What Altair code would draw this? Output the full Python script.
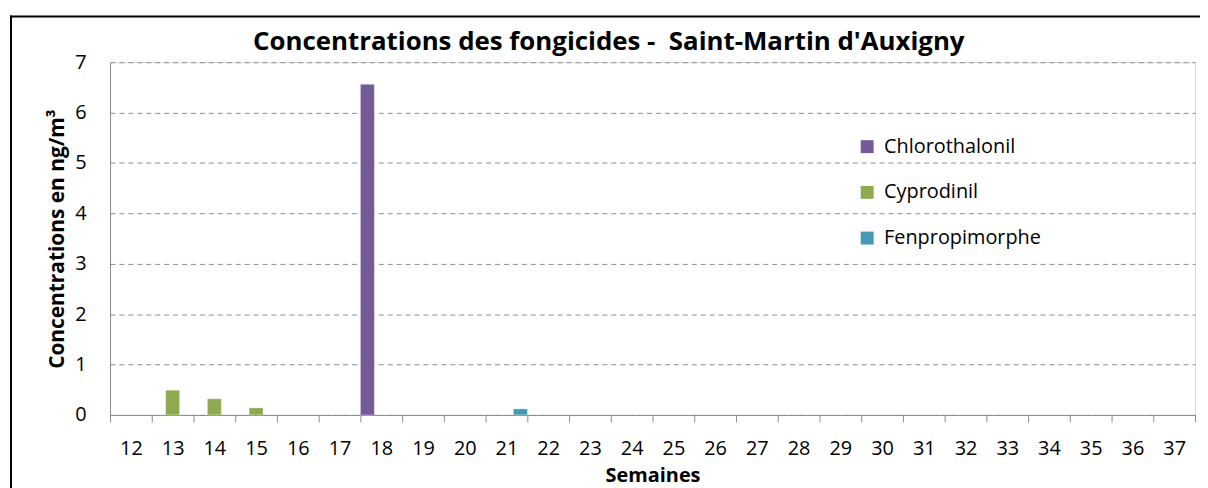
import altair as alt
import pandas as pd

weeks = list(range(12, 38))
series = ["Chlorothalonil", "Cyprodinil", "Fenpropimorphe"]
colors = ["#745a96", "#8daa4f", "#4499b4"]

chlorothalonil = [0, 0, 0, 0, 0, 0, 6.56, 0, 0, 0, 0, 0, 0, 0, 0, 0, 0, 0, 0, 0, 0, 0, 0, 0, 0, 0]
cyprodinil = [0, 0.49, 0.32, 0.14, 0, 0, 0, 0, 0, 0, 0, 0, 0, 0, 0, 0, 0, 0, 0, 0, 0, 0, 0, 0, 0, 0]
fenpropimorphe = [0, 0, 0, 0, 0, 0, 0, 0, 0, 0.12, 0, 0, 0, 0, 0, 0, 0, 0, 0, 0, 0, 0, 0, 0, 0, 0]

title_text = "Concentrations des fongicides -\u00a0 Saint-Martin d'Auxigny"
y_title = "Concentrations en ng/m³"
x_title = "Semaines"

rows = []
for name, vals in zip(series, [chlorothalonil, cyprodinil, fenpropimorphe]):
    for w, v in zip(weeks, vals):
        if v > 0:
            rows.append({"Semaine": w, "Fongicide": name, "Concentration": v})
df = pd.DataFrame(rows)

FONT = "Open Sans"
GRAY = "#8c8c8c"

bars = alt.Chart(df).mark_bar(stroke="#ffffff", strokeOpacity=0.3, strokeWidth=1).encode(
    x=alt.X(
        "Semaine:O",
        scale=alt.Scale(domain=weeks, paddingInner=0, paddingOuter=0),
        axis=alt.Axis(
            title=x_title,
            labelAngle=0,
            tickBand="extent",
            tickSize=7,
            tickColor=GRAY,
            domainColor=GRAY,
            labelPadding=17,
            labelFontSize=20,
            labelFont=FONT,
            labelColor="#000000",
            titleFont=FONT,
            titleFontSize=20,
            titleFontWeight="bold",
            titleColor="#000000",
            titleBaseline="alphabetic",
            titleY=67,
            grid=False,
        ),
    ),
    xOffset=alt.XOffset(
        "Fongicide:N", scale=alt.Scale(domain=series, paddingInner=0, paddingOuter=0)
    ),
    y=alt.Y(
        "Concentration:Q",
        scale=alt.Scale(domain=[0, 7]),
        axis=alt.Axis(
            title=y_title,
            values=list(range(8)),
            ticks=False,
            tickSize=0,
            labelPadding=24,
            labelFontSize=20,
            labelFont=FONT,
            labelColor="#000000",
            domainColor=GRAY,
            grid=True,
            gridColor=GRAY,
            gridDash=[5, 4],
            gridWidth=1,
            titleFont=FONT,
            titleFontSize=21,
            titleFontWeight="bold",
            titleColor="#000000",
            titleBaseline="alphabetic",
            titleX=-47,
            titleY=177.5,
            titleAngle=-90,
        ),
    ),
    color=alt.Color(
        "Fongicide:N",
        scale=alt.Scale(domain=series, range=colors),
        legend=alt.Legend(
            title=None,
            orient="none",
            legendX=752,
            legendY=75,
            padding=0,
            symbolType="square",
            symbolSize=169,
            symbolStrokeWidth=0,
            labelFontSize=20,
            labelFont=FONT,
            labelColor="#000000",
            labelOffset=7,
            rowPadding=26,
        ),
    ),
)

frame_top = alt.Chart(alt.Data(values=[{"k": 1}])).mark_rule(
    stroke="#000000", strokeWidth=2
).encode(x=alt.value(-100.7), x2=alt.value(1130), y=alt.value(-46))

frame_left = alt.Chart(alt.Data(values=[{"k": 1}])).mark_rule(
    stroke="#000000", strokeWidth=2
).encode(x=alt.value(-99.7), y=alt.value(-47), y2=alt.value(470))

title = alt.Chart(alt.Data(values=[{"k": 1}])).mark_text(
    text=title_text,
    font=FONT,
    fontSize=26,
    fontWeight="bold",
    align="center",
    baseline="alphabetic",
    color="#000000",
).encode(x=alt.value(502), y=alt.value(-12))

chart = alt.layer(frame_top, frame_left, bars, title).properties(
    width=1092,
    height=355,
    autosize=alt.AutoSizeParams(type="none"),
    padding={"left": 102.7, "top": 53, "right": 5, "bottom": 72},
).configure_view(stroke=None).configure(font=FONT)

chart.save("out.html", embed_options={"renderer": "svg", "actions": False})
